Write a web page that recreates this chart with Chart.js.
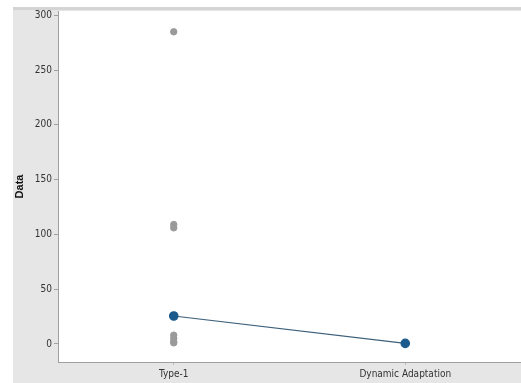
<!DOCTYPE html>
<html>
<head>
<meta charset="utf-8">
<script src="https://cdn.jsdelivr.net/npm/chart.js@4"></script>
<style>
  html, body { margin: 0; padding: 0; background: #ffffff; }
  #wrap { position: absolute; left: 13px; top: 7px; width: 508px; height: 376px; background: #e6e6e6; border-top: 3px solid #d4d4d4; box-sizing: border-box; }
  canvas { display: block; }
</style>
</head>
<body>
<div id="wrap"><canvas id="c" width="508" height="373"></canvas></div>
<script>
// categories et valeurs
const categories = ["Type-1", "Dynamic Adaptation"]
const centerValues = [25.5, 0.5]
const type1Points = [285, 109, 106, 8, 5, 2, 1]
const dynPoints = [0.5, 0]
const yTicks = [0, 50, 100, 150, 200, 250, 300]

const greyPoints = [
  ...type1Points.map(v => ({ x: categories[0], y: v })),
  ...dynPoints.map(v => ({ x: categories[1], y: v })),
]

const tickFont = { family: "'Liberation Sans Narrow', 'DejaVu Sans Condensed', Arial", size: 10 }

// fond blanc de la zone de tracé
const plotBg = {
  id: "plotBg",
  beforeDraw(chart) {
    const { ctx, chartArea: { left, top, right, bottom } } = chart
    ctx.save()
    ctx.fillStyle = "#ffffff"
    ctx.fillRect(left, top, right - left, bottom - top)
    ctx.restore()
  }
}

new Chart(document.getElementById("c"), {
  type: "line",
  data: {
    labels: categories,
    datasets: [
      {
        type: "scatter",
        label: "Valeurs",
        data: greyPoints,
        backgroundColor: "#9a9a9a",
        borderColor: "#9a9a9a",
        pointRadius: 3.2,
        showLine: false,
        order: 2,
      },
      {
        label: "Centre",
        data: centerValues,
        borderColor: "#3c5f7a",
        borderWidth: 1.2,
        backgroundColor: "#1b5a8c",
        pointBackgroundColor: "#1b5a8c",
        pointBorderColor: "#1b5a8c",
        pointRadius: 4.2,
        order: 1,
      },
    ],
  },
  options: {
    responsive: false,
    animation: false,
    layout: { autoPadding: false, padding: { top: 1, right: 0, left: 0, bottom: 0 } },
    plugins: {
      legend: { display: false },
      tooltip: { enabled: false },
    },
    scales: {
      x: {
        type: "category",
        offset: true,
        grid: { display: true, drawOnChartArea: false, drawTicks: true, tickLength: 3, color: "#bbbbbb" },
        border: { display: true, color: "#a0a0a0", width: 1 },
        ticks: { font: tickFont, color: "#333333", padding: 3, maxRotation: 0 },
        afterFit(scale) {
          scale.height = 21
          scale.paddingLeft = 0
          scale.paddingRight = 0
        },
      },
      y: {
        min: -16.5,
        max: 304,
        afterBuildTicks(scale) { scale.ticks = yTicks.map(v => ({ value: v })) },
        grid: { display: true, drawOnChartArea: false, drawTicks: true, tickLength: 4, color: "#a0a0a0" },
        border: { display: true, color: "#a0a0a0", width: 1 },
        ticks: { font: tickFont, color: "#333333", padding: 2 },
        title: {
          display: true,
          text: "Data",
          font: { family: "'Liberation Sans Narrow', Arial", size: 11, weight: "bold" },
          color: "#111111",
          padding: 0,
        },
        afterFit(scale) {
          scale.width = 45
          scale.paddingTop = 0
          scale.paddingBottom = 0
        },
      },
    },
  },
  plugins: [plotBg],
})
</script>
</body>
</html>
